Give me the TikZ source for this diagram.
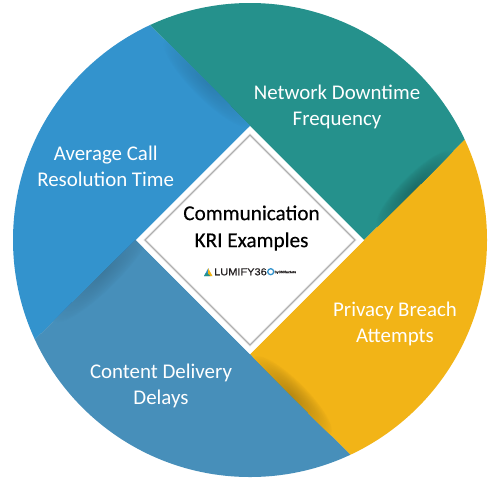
\documentclass[tikz,border=0pt]{standalone}
\usepackage{fontspec}
\setmainfont{Carlito}
\newfontfamily\logofont[FakeStretch=1.1,FakeBold=0.5]{Liberation Sans}
\newfontfamily\centerfont[FakeBold=0.3]{Carlito}
\definecolor{cblue}{HTML}{3393CD}
\definecolor{cteal}{HTML}{25918C}
\definecolor{cyellow}{HTML}{F2B417}
\definecolor{csteel}{HTML}{478FBA}
\definecolor{cdark}{HTML}{231F20}
\tikzset{
  seclabel/.style={text=white,align=center,font=\fontsize{20.9}{26}\selectfont},
  centerlabel/.style={text=black,align=center,font=\centerfont\fontsize{21.2}{27}\selectfont},
}
% soft shadow: centre, visual angle, half length, half width, base colour, peak darkening in %
\newcommand{\softshadow}[6]{%
  \foreach \k in {40,39,...,1}{
    \pgfmathsetmacro{\pp}{100-#6*(1-\k/40)^0.75}
    \pgfmathsetmacro{\aa}{#3*\k/40}
    \pgfmathsetmacro{\bb}{#4*\k/40}
    \fill[#5!\pp!black] #1 ellipse [x radius=\aa pt,y radius=\bb pt,rotate=#2];
  }%
}
\begin{document}
\begin{tikzpicture}[x=1pt,y=-1pt]
\useasboundingbox (0,0) rectangle (500,480);
\fill[white] (0,0) rectangle (500,480);
\coordinate (c) at (250,240);
\coordinate (tl) at (130.5,5);
\coordinate (tr) at (484,120.5);
\coordinate (br) at (369,473.5);
\coordinate (bl) at (16.5,357.6);
\coordinate (dt) at (250,126);
\coordinate (dr) at (364,240);
\coordinate (db) at (250,354);
\coordinate (dl) at (136,240);
\begin{scope}
  \clip (c) circle (237);
  \fill[cblue]   (tl) -- (dt) -- (dl) -- (bl) -- (-20,240) -- (0,0) -- cycle;
  \fill[cteal]   (tl) -- (dt) -- (dr) -- (tr) -- (500,0) -- (150,-10) -- cycle;
  \fill[cyellow] (tr) -- (dr) -- (db) -- (br) -- (500,480) -- (510,130) -- cycle;
  \fill[csteel]  (bl) -- (dl) -- (db) -- (br) -- (340,490) -- (0,490) -- cycle;
  % soft shadows, each kept inside its own sector
  \begin{scope}
    \clip (tl) -- (dt) -- (dl) -- (bl) -- (-20,240) -- (0,0) -- cycle;
    \softshadow{(208,83)}{-45}{62}{16}{cblue}{14}
  \end{scope}
  \begin{scope}
    \clip (bl) -- (dl) -- (db) -- (br) -- (340,490) -- (0,490) -- cycle;
    \softshadow{(103,272.5)}{45}{70}{16}{csteel}{15}
  \end{scope}
  \begin{scope}
    \clip (tr) -- (dr) -- (db) -- (br) -- (500,480) -- (510,130) -- cycle;
    \softshadow{(292,396)}{-45}{56}{15}{cyellow}{24}
  \end{scope}
  \begin{scope}
    \clip (tl) -- (dt) -- (dr) -- (tr) -- (500,0) -- (150,-10) -- cycle;
    \softshadow{(415,189)}{45}{54}{14}{cteal}{26}
  \end{scope}
\end{scope}
% central diamond
\fill[white] (dt) -- (dr) -- (db) -- (dl) -- cycle;
\draw[black!12,line width=2.4pt] (250,135) -- (355,240) -- (250,345) -- (145,240) -- cycle;
\draw[black!32,line width=0.8pt] (250,135) -- (355,240) -- (250,345) -- (145,240) -- cycle;
% labels
\node[seclabel] (netw) at (337,106.5) {Network Downtime\\Frequency};
\node[seclabel] (call) at (105.7,166.5) {Average Call\\Resolution Time};
\node[seclabel] (priv) at (395,324) {Privacy Breach\\Attempts};
\node[seclabel] (cont) at (161,385.5) {Content Delivery\\Delays};
\node[centerlabel] (kri) at (251.5,228) {Communication\\KRI Examples};
% logo
\fill[cblue]   (204,276) -- (208.3,268) -- (208.3,276) -- cycle;
\fill[cyellow] (208,276) -- (208,268) -- (212.5,276) -- cycle;
\fill[cteal]   (204,276) -- (206.5,272.5) -- (210.5,276) -- cycle;
\node[text=cdark,anchor=west,inner sep=0pt,font=\logofont\fontsize{10}{10}\selectfont] (logo) at (214,271.8) {LUMIFY36};
\draw[cblue,line width=1.3pt] (270.7,271.7) circle (3);
\node[text=cdark,anchor=west,inner sep=0pt,font=\logofont\fontsize{3.4}{4}\selectfont] (logos) at (274.5,272.3) {by360factors};
\end{tikzpicture}
\end{document}
